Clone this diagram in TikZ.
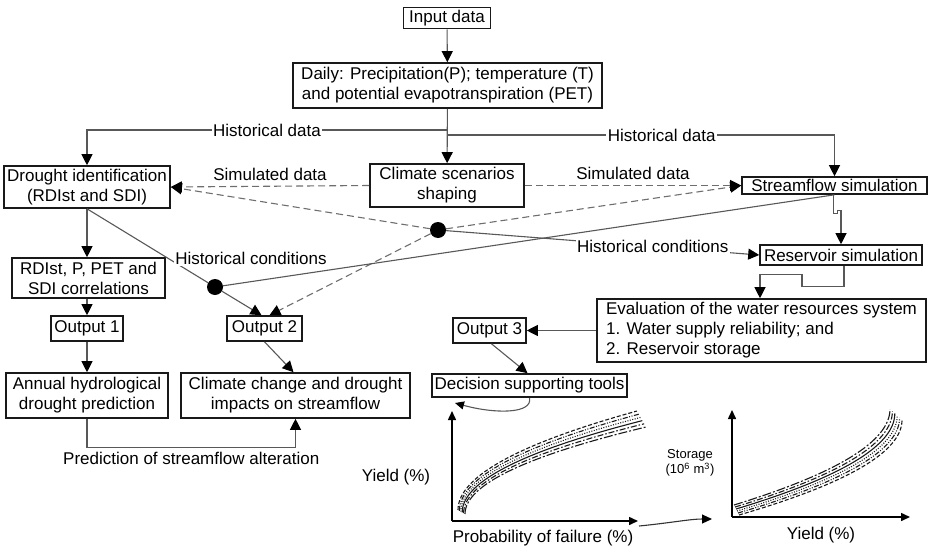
\documentclass[tikz,border=0pt]{standalone}
\usepackage{fontspec}
\setmainfont{Liberation Sans}
\usepackage{tikz}
\usetikzlibrary{arrows.meta}
\definecolor{lineg}{RGB}{88,88,88}
\definecolor{dashg}{RGB}{110,110,110}
\definecolor{boxk}{RGB}{25,25,25}
\newcommand{\mainsz}{\fontsize{17}{20}\selectfont}
\newcommand{\smallsz}{\fontsize{13}{15}\selectfont}
\tikzset{
  box/.style  ={draw=boxk, line width=1.6pt, fill=white, align=center,
                font=\mainsz, inner sep=1pt},
  lbl/.style  ={font=\mainsz, inner sep=1.5pt},
  ln/.style   ={draw=lineg, line width=1.1pt},
  ar/.style   ={ln, -{Triangle[length=11pt,width=11pt,color=black]}},
  dar/.style  ={ar, draw=dashg, dash pattern=on 7pt off 4pt},
  dot/.style  ={circle, fill=black, inner sep=0pt, minimum size=16pt},
  ax/.style   ={draw=black, line width=1.5pt, -{Triangle[length=9pt,width=8pt]}},
  crv/.style  ={draw=black!90, line width=1.1pt},
  crvA/.style ={crv, dash pattern=on 4pt off 2pt},
  crvB/.style ={crv, dash pattern=on 5pt off 1.5pt on 1pt off 1.5pt on 1pt off 1.5pt},
  crvC/.style ={crv, dash pattern=on 1pt off 1.5pt},
  crvD/.style ={crv},
  crvE/.style ={crv, dash pattern=on 6pt off 2pt on 1.5pt off 2pt},
  crvF/.style ={crv, dash pattern=on 9pt off 2pt on 2pt off 2pt},
}
\begin{document}
\begin{tikzpicture}[x=1pt,y=-1pt]
\useasboundingbox (0,0) rectangle (928,551);
% boxes
\node[box,minimum width=87pt,minimum height=21pt]  (inp)   at (447,18)    {Input data};
\node[box,minimum width=309pt,minimum height=45pt] (daily) at (447.5,85.5) {Daily: Precipitation(P); temperature (T)\\and potential evapotranspiration (PET)};
\node[box,minimum width=166pt,minimum height=42pt] (drought) at (87,187)  {Drought identification\\(RDIst and SDI)};
\node[box,minimum width=154pt,minimum height=43pt] (climate) at (447,185.5) {Climate scenarios\\shaping};
\node[box,minimum width=185pt,minimum height=17pt,inner ysep=0pt] (stream) at (834.5,185.5) {Streamflow simulation};
\node[box,minimum width=162pt,minimum height=20pt,inner ysep=0pt] (res) at (841,255) {Reservoir simulation};
\node[box,minimum width=329pt,minimum height=63pt,align=left] (eval) at (761.5,330.5) {Evaluation of the water resources system\\1. Water supply reliability; and\\2. Reservoir storage};
\node[box,minimum width=73pt,minimum height=25pt]  (out3) at (489.5,330.5) {Output 3};
\node[box,minimum width=195pt,minimum height=23pt] (dec)  at (529.5,385.5) {Decision supporting tools};
\node[box,minimum width=153pt,minimum height=40pt] (rdi)  at (88.5,278)   {RDIst, P, PET and\\SDI correlations};
\node[box,minimum width=72pt,minimum height=25pt]  (out1) at (87,328.5)   {Output 1};
\node[box,minimum width=75pt,minimum height=25pt]  (out2) at (264.5,328.5) {Output 2};
\node[box,minimum width=162pt,minimum height=45pt] (ann)  at (87,395.5)   {Annual hydrological\\drought prediction};
\node[box,minimum width=229pt,minimum height=45pt] (cc)   at (295.5,395.5) {Climate change and drought\\impacts on streamflow};
\node[dot] (d1) at (438,230) {};
\node[dot] (d2) at (215,287) {};
\coordinate (hl) at (447,130);
\coordinate (hr) at (447,135);

% main flow
\draw[ar] (inp) -- (daily);
\draw[ar] (daily) -- (climate);
\draw[ar] (hl) -| (drought.north) node[lbl,fill=white,pos=0.25] {Historical data};
\draw[ar] (hr) -| (stream.north) node[lbl,fill=white,pos=0.277] {Historical data};
\draw[dar] (climate.west) -- (drought.east) node[lbl,midway,above=4pt] {Simulated data};
\draw[dar] (climate.east) -- (stream.west) node[lbl,midway,above=4pt] {Simulated data};

% junctions
\draw[dar] (d1) -- (drought.east);
\draw[dar] (d1) -- (stream.west);
\draw[dar] (d1) -- ([xshift=5pt]out2.north);
\draw[ln] (d2) -- (stream.south);
\draw[ln] (drought.south) -- (d2);
\draw[ar] (d2) -- ([xshift=-3pt]out2.north);
\node[lbl,fill=white] at (251,258) {Historical conditions};
\draw[ar] (d1) -- (res.west) node[lbl,fill=white,pos=0.66] {Historical conditions};

% left column
\draw[ar] (drought) -- (drought |- rdi.north);
\draw[ar] (rdi.south -| out1) -- (out1);
\draw[ar] (out1) -- (ann);
\draw[ar] (out2.south) -- ([xshift=-2pt]cc.north);
\draw[ar] (ann.south) -- ++(0,29) -| (cc.south)
   node[lbl,pos=0.25,below=2pt] {Prediction of streamflow alteration};

% right column
\draw[ar] ([xshift=-1pt]stream.south) -- ++(0,19) -- ++(4,0) -- ++(0,-3) -| (res.north);
\draw[ar] ([xshift=3pt]res.south) -- ++(0,21) -- ++(-42,0) -- ++(0,-12) -| ([xshift=-1.5pt]eval.north);
\draw[ar] (eval.west) -- (out3.east);
\draw[ar] ([xshift=2pt]out3.south) -- ([xshift=-2pt]dec.north);
\coordinate (dtip) at (455,403);
\draw[ar,-{Triangle[length=9pt,width=8pt,color=black]}] (dec.south) .. controls (533,414) and (495,414) .. (dtip);

% plots
\coordinate (oL) at (452,521);
\coordinate (oR) at (732,517);
\draw[ax] (oL) -- (452,411);
\draw[ax] (oL) -- (638,521);
\draw[ax] (oR) -- (732,410);
\draw[ax] (oR) -- (910,517);
\foreach \i/\st in {0/crvA,1/crvB,2/crvC,3/crvD,4/crvE,5/crvF}{
  \draw[\st] plot[domain=0:1,samples=40,variable=\t]
    ({458+1.4*\i+(179+0.4*\i)*\t*\t},{510+0.8*\i-(99-2.4*\i)*\t});
}
\foreach \i/\st in {0/crvF,1/crvE,2/crvD,3/crvC,4/crvB,5/crvA}{
  \draw[\st] plot[domain=0:1,samples=40,variable=\t]
    ({734+\i+(156+1.4*\i)*(1-(1-\t)*(1-\t))},{505+2*\i-(96-0.2*\i)*\t});
}
\coordinate (pa) at (639,526);
\coordinate (pb) at (712,519);
\draw[ar,draw=black!80,-{Triangle[length=10pt,width=9pt,color=black]}] (pa) .. controls (670,523) and (690,519) .. (pb);
\node[lbl] (ylL) at (396,477) {Yield (\%)};
\node[lbl] (xlL) at (543,538) {Probability of failure (\%)};
\node[font=\smallsz,align=center] (ylR) at (690,463) {Storage\\(10\textsuperscript{6} m\textsuperscript{3})};
\node[lbl] (xlR) at (821,535) {Yield (\%)};
\end{tikzpicture}
\end{document}
